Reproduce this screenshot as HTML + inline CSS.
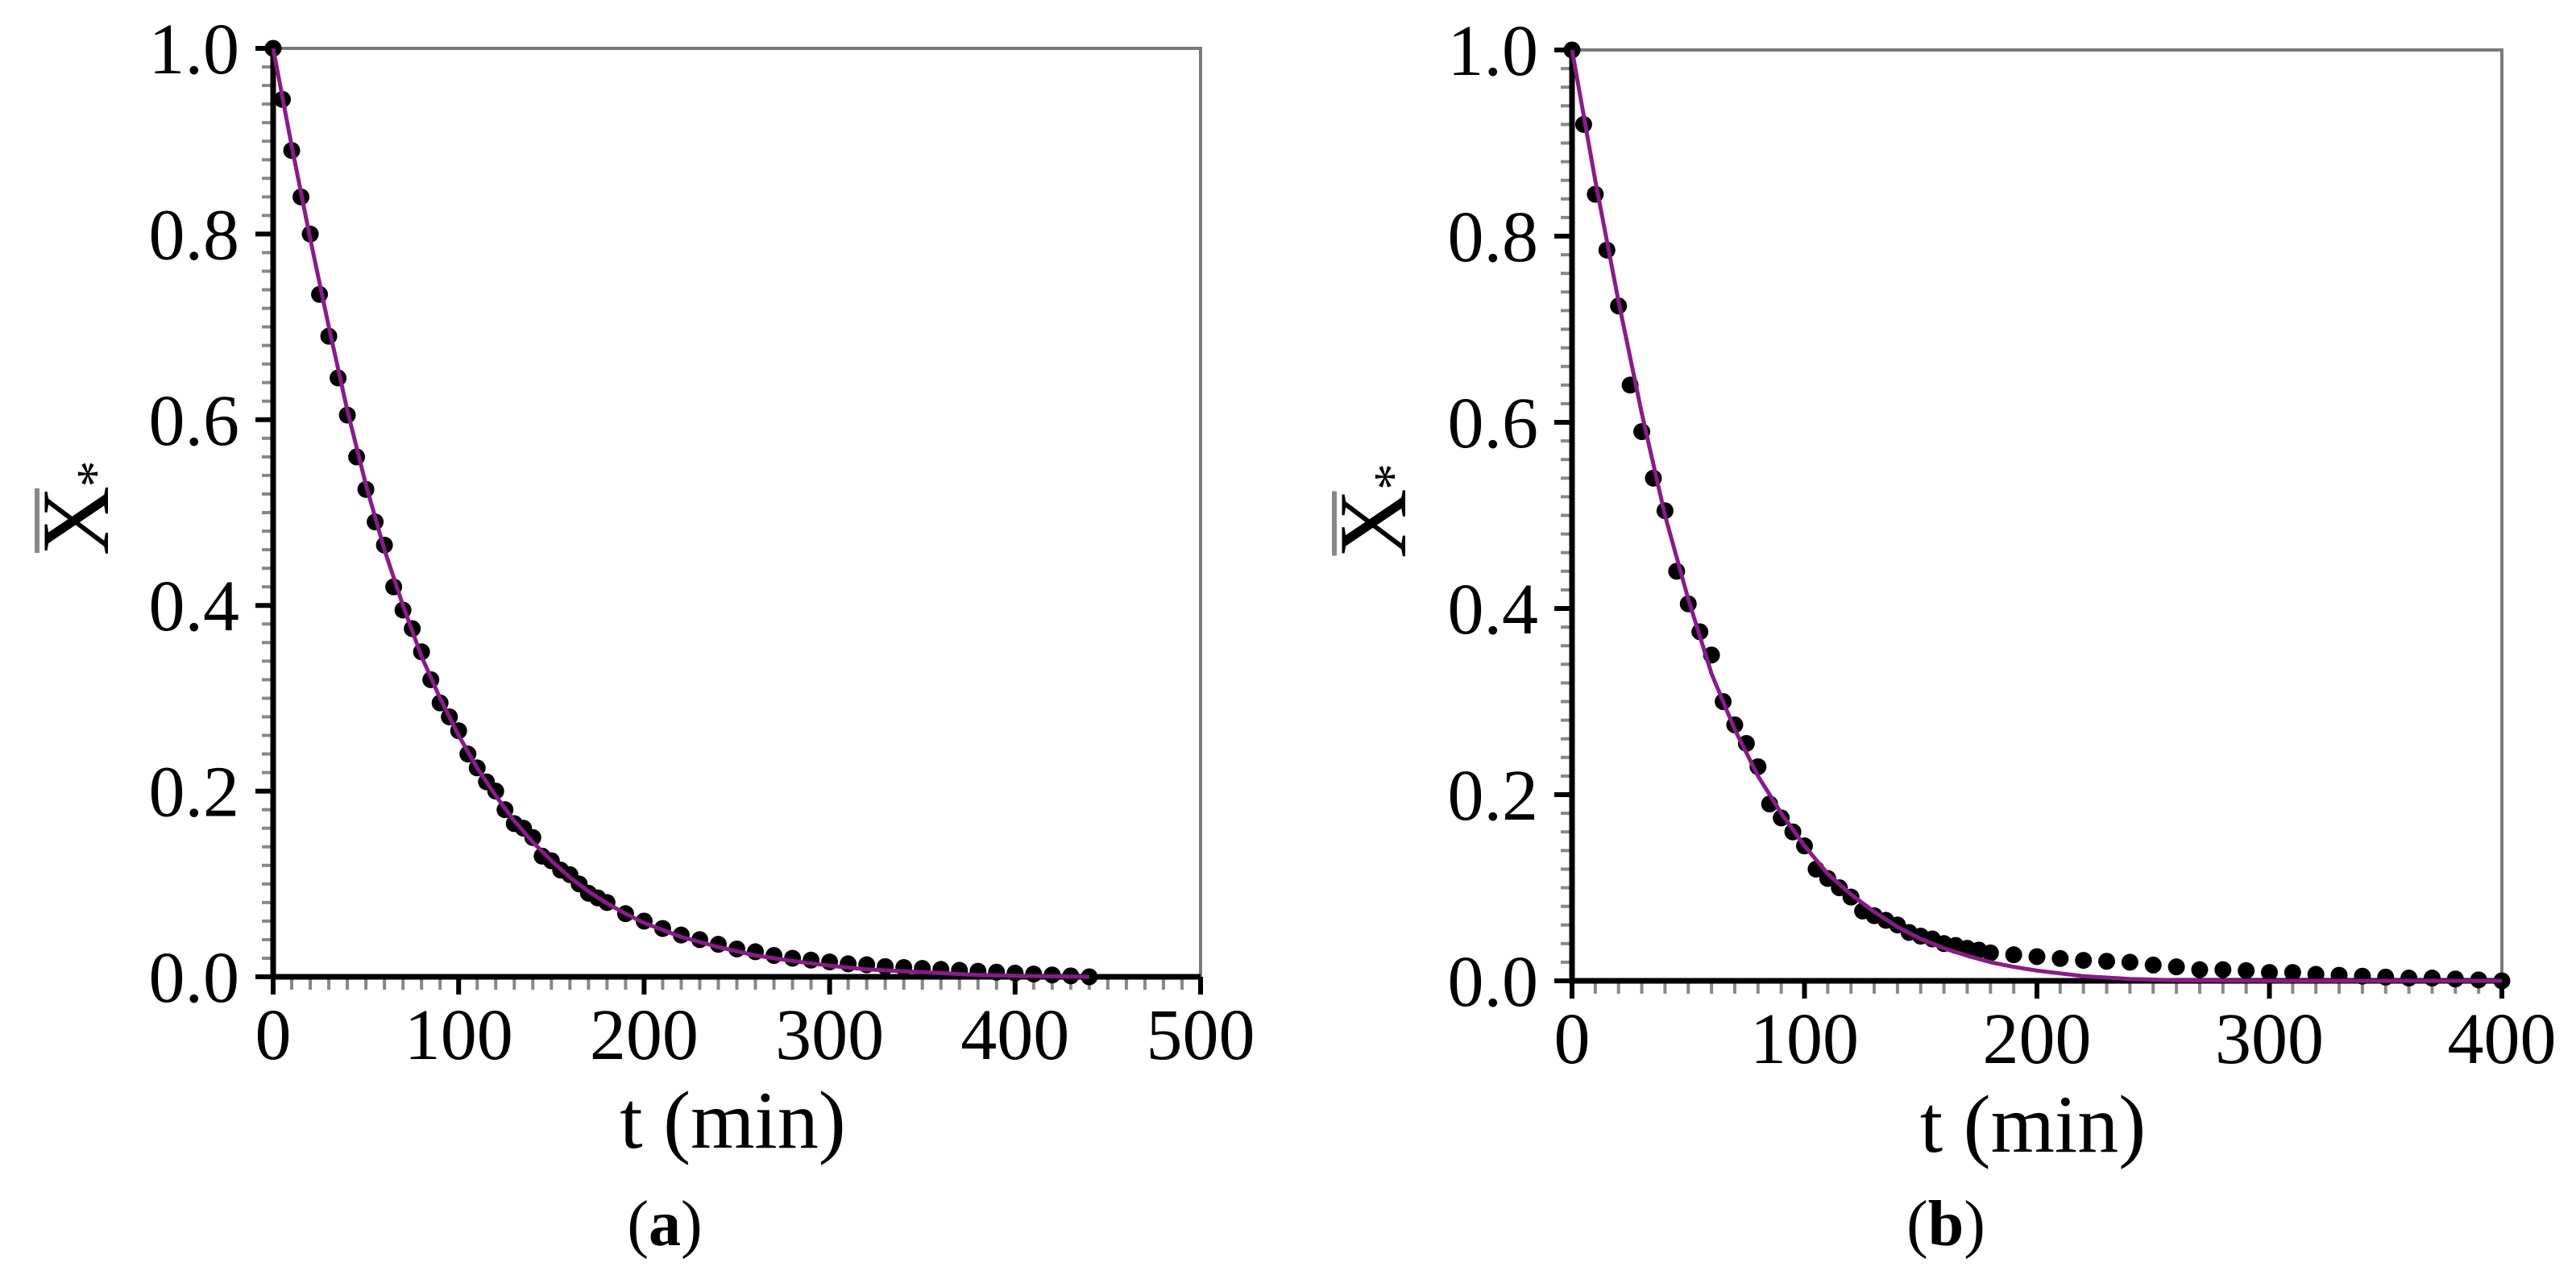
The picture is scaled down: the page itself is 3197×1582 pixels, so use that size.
<!DOCTYPE html>
<html><head><meta charset="utf-8"><style>
html,body{margin:0;padding:0;background:#fff;}
svg{display:block;}
text{font-family:"Liberation Serif",serif;fill:#000;}
</style></head><body>
<svg id="fig" width="3197" height="1582" viewBox="0 0 3197 1582" xmlns="http://www.w3.org/2000/svg"></svg>
<script>
// Panel (a) data
const aT = [0,5,10,15,20,25,30,35,40,45,50,55,60,65,70,75,80,85,90,95,100,105,110,115,120,125,130,135,140,145,150,155,160,165,170,175,180,190,200,210,220,230,240,250,260,270,280,290,300,310,320,330,340,350,360,370,380,390,400,410,420,430,440];
const aX = [1.0,0.945,0.89,0.84,0.80,0.735,0.69,0.645,0.605,0.56,0.525,0.49,0.465,0.42,0.395,0.375,0.35,0.32,0.295,0.28,0.265,0.24,0.225,0.21,0.2,0.18,0.165,0.16,0.15,0.13,0.125,0.115,0.11,0.1,0.09,0.085,0.08,0.068,0.06,0.052,0.045,0.04,0.035,0.03,0.027,0.023,0.02,0.018,0.016,0.014,0.013,0.011,0.01,0.009,0.008,0.007,0.006,0.005,0.004,0.003,0.002,0.001,0.0];
const aFitT = [0,10,20,30,40,50,60,70,80,90,100,110,120,130,140,150,160,170,180,190,200,220,240,260,280,300,320,340,360,380,400,440];
const aFitX = [1,0.895,0.795,0.70,0.61,0.53,0.46,0.40,0.345,0.30,0.26,0.225,0.195,0.168,0.145,0.125,0.107,0.092,0.079,0.068,0.058,0.043,0.032,0.023,0.017,0.012,0.008,0.006,0.004,0.002,0.001,0];
// Panel (b) data
const bT = [0,5,10,15,20,25,30,35,40,45,50,55,60,65,70,75,80,85,90,95,100,105,110,115,120,125,130,135,140,145,150,155,160,165,170,175,180,190,200,210,220,230,240,250,260,270,280,290,300,310,320,330,340,350,360,370,380,390,400];
const bX = [1.0,0.92,0.845,0.785,0.725,0.64,0.59,0.54,0.505,0.44,0.405,0.375,0.35,0.3,0.275,0.255,0.23,0.19,0.175,0.16,0.145,0.12,0.11,0.1,0.09,0.075,0.07,0.065,0.06,0.052,0.048,0.045,0.04,0.038,0.035,0.033,0.03,0.028,0.026,0.024,0.022,0.021,0.02,0.017,0.015,0.012,0.012,0.011,0.009,0.009,0.007,0.006,0.005,0.004,0.003,0.003,0.002,0.001,0.0];
const bFitT = [0,10,20,30,40,50,60,70,80,90,100,110,120,130,140,150,160,170,180,190,200,220,240,260,300,400];
const bFitX = [1,0.86,0.73,0.61,0.5,0.41,0.33,0.27,0.22,0.18,0.145,0.115,0.093,0.074,0.058,0.045,0.035,0.027,0.02,0.015,0.011,0.005,0.002,0.0005,0,0];
const yTicks = [0.0,0.2,0.4,0.6,0.8,1.0];
const yTickLabels = ["0.0","0.2","0.4","0.6","0.8","1.0"];
const aXTicks = [0,100,200,300,400,500];
const bXTicks = [0,100,200,300,400];

const NS="http://www.w3.org/2000/svg";
const svg=document.getElementById('fig');
function mk(tag,attrs,parent){const e=document.createElementNS(NS,tag);for(const k in attrs)e.setAttribute(k,attrs[k]);(parent||svg).appendChild(e);return e;}

function panel(cfg){
  const g=mk('g',{});
  
  
  const L=cfg.L,R=cfg.R,T=cfg.T,B=cfg.B;
  const sx=v=>L+(v-cfg.xmin)/(cfg.xmax-cfg.xmin)*(R-L);
  const sy=v=>B-(v)/(1.0)*(B-T);
  const fr=mk('path',{d:`M${L} ${T} H${R} V${B}`,stroke:'#7a7a7a','stroke-width':4,fill:'none'},g);
  
  
  for(let v=0;v<=1.0001;v+=0.02){
    const y=sy(v);
    const t=mk('line',{x1:L-14,x2:L,y1:y,y2:y,stroke:'#888','stroke-width':4},g);
    
    
  }
  for(let v=cfg.xmin;v<=cfg.xmax+0.001;v+=10){
    const x=sx(v);
    const t=mk('line',{x1:x,x2:x,y1:B,y2:B+16,stroke:'#888','stroke-width':4},g);
    
    
  }
  yTicks.forEach((v,i)=>{
    const y=sy(v);
    const t=mk('line',{x1:L-22,x2:L,y1:y,y2:y,stroke:'#000','stroke-width':6},g);
    
    
    const tx=mk('text',{x:L-42,y:y+31,'text-anchor':'end','font-size':90},g);
    tx.textContent=yTickLabels[i];
    
    
  });
  cfg.xticks.forEach(v=>{
    const x=sx(v);
    const t=mk('line',{x1:x,x2:x,y1:B,y2:B+22,stroke:'#000','stroke-width':6},g);
    
    
    const tx=mk('text',{x:x,y:B+102,'text-anchor':'middle','font-size':90},g);
    tx.textContent=String(v);
    
    
  });
  const ax=mk('path',{d:`M${L} ${T} V${B} H${R}`,stroke:'#000','stroke-width':7,fill:'none'},g);
  
  
  cfg.t.forEach((tv,i)=>{
    const c=mk('circle',{cx:sx(tv),cy:sy(cfg.x[i]),r:10.5,fill:'#000'},g);
    
    
  });
  const d=cfg.ft.map((tv,i)=>(i?'L':'M')+sx(tv).toFixed(1)+' '+sy(cfg.fx[i]).toFixed(1)).join(' ');
  const ln=mk('path',{d:d,stroke:'#8b1a8b','stroke-width':5,fill:'none','stroke-linejoin':'round'},g);
  
  
  const xl=mk('text',{x:(L+R)/2-5,y:B+212,'text-anchor':'middle','font-size':102},g);
  xl.textContent='t (min)';
  
  
  const cy=(T+B)/2+10;
  const yl=mk('text',{x:0,y:0,'font-size':120,transform:`translate(${cfg.yLabelX},${cy}) rotate(-90)`,'text-anchor':'middle'},g);
  yl.textContent='X';
  
  
  const ob=mk('line',{x1:cfg.yLabelX-88,x2:cfg.yLabelX-88,y1:cy-40,y2:cy+40,stroke:'#888','stroke-width':6},g);
  
  
  const st=mk('text',{x:0,y:0,'font-size':66,transform:`translate(${cfg.yLabelX+6},${cy-58}) rotate(-90)`,'text-anchor':'middle'},g);
  st.textContent='*';
  
  
  const pl=mk('text',{x:cfg.capX,y:1545,'text-anchor':'middle','font-size':80},g);
  pl.innerHTML='(<tspan font-weight="bold">'+cfg.cap+'</tspan>)';
  
  
}
panel({name:'panel-a',L:339,R:1490,T:60,B:1212,xmin:0,xmax:500,xticks:aXTicks,t:aT,x:aX,ft:aFitT,fx:aFitX,yLabelX:134,capX:825,cap:'a'});
panel({name:'panel-b',L:1951,R:3105,T:62,B:1217,xmin:0,xmax:400,xticks:bXTicks,t:bT,x:bX,ft:bFitT,fx:bFitX,yLabelX:1744,capX:2415,cap:'b'});
</script>
</body></html>
